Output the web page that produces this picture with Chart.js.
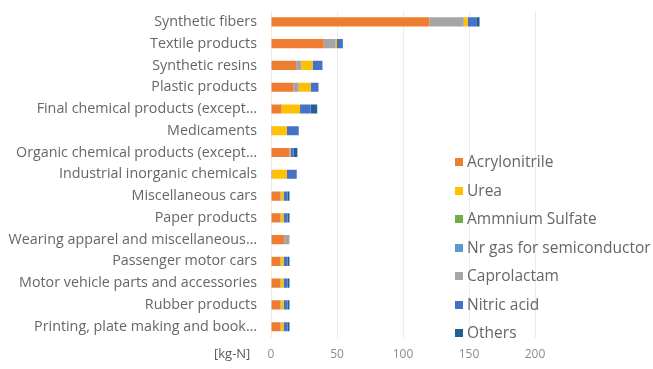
<!DOCTYPE html>
<html>
<head>
<meta charset="utf-8">
<script src="https://cdn.jsdelivr.net/npm/chart.js@4"></script>
<style>
  body { margin: 0; background: #fff; }
  #wrap { position: relative; width: 653px; height: 369px; overflow: hidden; }
  #unit { position: absolute; left: 214px; top: 344px; font: 13px "Open Sans", sans-serif; color: #595959; }
  #legend { position: absolute; left: 455px; top: 149px; font: 15.5px "Open Sans", sans-serif; color: #666; white-space: nowrap; }
  #legend div { height: 28.5px; line-height: 24px; }
  #legend span { display: inline-block; width: 8px; height: 8px; margin-right: 4px; vertical-align: 1px; }
</style>
</head>
<body>
<div id="wrap">
  <canvas id="chart" width="653" height="369"></canvas>
  <div id="unit">[kg-N]</div>
  <div id="legend"></div>
</div>
<script>
// categories, top to bottom
var categories = ["Synthetic fibers", "Textile products", "Synthetic resins", "Plastic products",
  "Final chemical products (except…", "Medicaments", "Organic chemical products (except…",
  "Industrial inorganic chemicals", "Miscellaneous cars", "Paper products",
  "Wearing apparel and miscellaneous…", "Passenger motor cars",
  "Motor vehicle parts and accessories", "Rubber products", "Printing, plate making and book…"];

// values [kg-N]
var acrylonitrile = [120, 40, 19, 17, 8, 1, 14, 1, 7, 7, 10, 7, 7, 7, 7];
var caprolactam   = [26, 9, 4, 4, 0, 0, 1, 0, 0.5, 0.5, 4, 0.5, 0.5, 0.5, 0.5];
var urea          = [3, 1, 8.5, 9, 14, 11, 0, 11, 2, 2, 0, 2, 2, 2, 2];
var ammonium      = [0, 0, 0, 0, 0, 0, 0, 0, 0, 0, 0, 0, 0, 0, 0];
var nrGas         = [0, 0, 0, 0, 0, 0, 0, 0, 0, 0, 0, 0, 0, 0, 0];
var nitricAcid    = [7, 4, 7.5, 6, 8, 9, 2, 7.5, 3, 3, 0, 3, 3, 3, 3];
var others        = [2, 0.5, 0, 0, 5, 0, 3, 0, 1.5, 1.5, 0, 1.5, 1.5, 1.5, 1.5];

var xTicks = [0, 50, 100, 150, 200];

// legend order as in the picture
var series = [
  {label: "Acrylonitrile", data: acrylonitrile, color: "#ED7D31", stack: 0},
  {label: "Urea", data: urea, color: "#FFC000", stack: 2},
  {label: "Ammnium Sulfate", data: ammonium, color: "#70AD47", stack: 3},
  {label: "Nr gas for semiconductor", data: nrGas, color: "#5B9BD5", stack: 4},
  {label: "Caprolactam", data: caprolactam, color: "#A5A5A5", stack: 1},
  {label: "Nitric acid", data: nitricAcid, color: "#4472C4", stack: 5},
  {label: "Others", data: others, color: "#255E91", stack: 6}
];

// bars are stacked in a slightly different order than the legend
var datasets = series.slice().sort(function (a, b) { return a.stack - b.stack; }).map(function (s) {
  return {
    label: s.label,
    data: s.data,
    backgroundColor: s.color,
    borderWidth: 0,
    categoryPercentage: 0.42,
    barPercentage: 1
  };
});

var ctx = document.getElementById("chart").getContext("2d");
var chart = new Chart(ctx, {
  type: "bar",
  data: { labels: categories, datasets: datasets },
  options: {
    indexAxis: "y",
    responsive: false,
    animation: false,
    layout: { padding: { left: 0, right: 118, top: 11, bottom: -3 } },
    plugins: {
      legend: { display: false },
      tooltip: { enabled: false }
    },
    scales: {
      x: {
        stacked: true,
        min: xTicks[0],
        max: xTicks[xTicks.length - 1],
        afterBuildTicks: function (scale) {
          scale.ticks = xTicks.map(function (v) { return { value: v }; });
        },
        grid: { color: "#ededed", drawTicks: false },
        border: { display: false },
        ticks: { color: "#8c8c8c", font: { family: "Open Sans", size: 12 }, padding: 10 }
      },
      y: {
        stacked: true,
        afterFit: function (scale) {
          scale.width = 271;
          scale.paddingTop = 0;
          scale.paddingBottom = 0;
        },
        grid: { display: false, drawTicks: false },
        border: { display: false },
        ticks: { color: "#666", font: { family: "Open Sans", size: 14.3 }, padding: 14, autoSkip: false }
      }
    }
  }
});

// legend built from the series list
var legend = document.getElementById("legend");
series.forEach(function (s) {
  var row = document.createElement("div");
  var box = document.createElement("span");
  box.style.background = s.color;
  row.appendChild(box);
  row.appendChild(document.createTextNode(s.label));
  legend.appendChild(row);
});
</script>
</body>
</html>
